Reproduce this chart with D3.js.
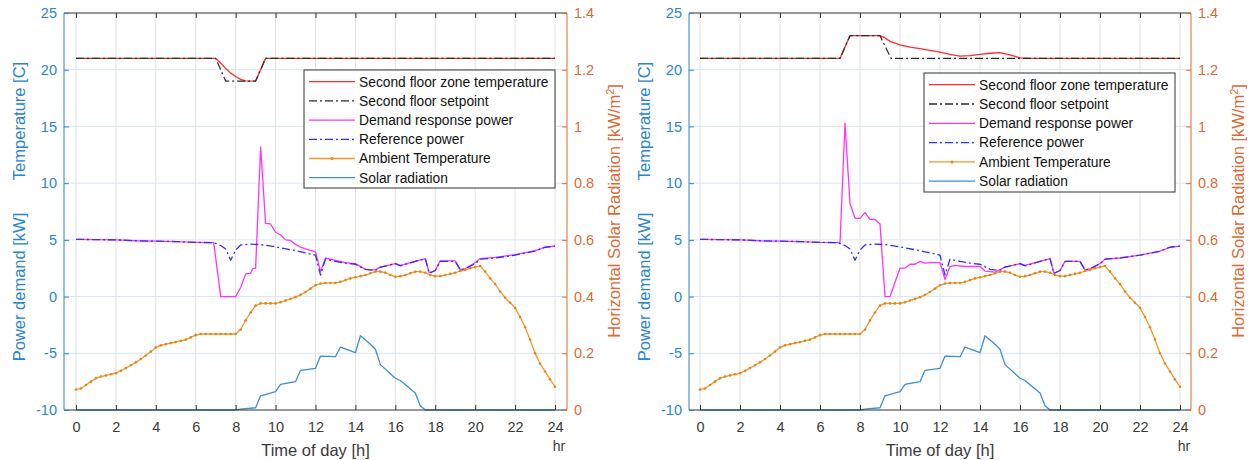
<!DOCTYPE html>
<html><head><meta charset="utf-8">
<script src="https://cdn.jsdelivr.net/npm/d3@7"></script>
<style>
body{margin:0;background:#fff}
svg{display:block}
text{font-family:"Liberation Sans",Arial,Helvetica,sans-serif}
</style>
</head><body>
<svg id="c" width="1255" height="460"></svg>
<script>
// ---------- data ----------
const xTicks = [0,2,4,6,8,10,12,14,16,18,20,22,24];
const tempTicks = [-10,-5,0,5,10,15,20,25];
const solarTicks = [0,0.2,0.4,0.6,0.8,1,1.2,1.4];
const solarTickLabels = ["0","0.2","0.4","0.6","0.8","1","1.2","1.4"];
const legendLabels = ["Second floor zone temperature","Second floor setpoint","Demand response power","Reference power","Ambient Temperature","Solar radiation"];

// ambient temperature, every 15 min (deg C)
const ambTimes = d3.range(0, 24.001, 0.25);
const ambientTemp = [
 -8.2,-8.1,-7.8,-7.5, -7.2,-7.05,-6.95,-6.85, -6.75,-6.55,-6.3,-6.05, -5.8,-5.5,-5.2,-4.85,
 -4.5,-4.3,-4.2,-4.1, -4.0,-3.9,-3.8,-3.6, -3.4,-3.3,-3.3,-3.3, -3.3,-3.3,-3.3,-3.3,
 -3.3,-2.9,-2.1,-1.4, -0.8,-0.6,-0.6,-0.6, -0.6,-0.5,-0.35,-0.2, -0.05,0.15,0.4,0.7,
 1.0,1.15,1.2,1.2, 1.2,1.3,1.45,1.6, 1.7,1.8,1.9,2.05, 2.2,2.2,2.1,1.9,
 1.75,1.8,1.9,2.05, 2.2,2.2,2.1,1.9, 1.8,1.8,1.9,2.0, 2.1,2.25,2.35,2.5,
 2.6,2.7,2.2,1.6, 1.1,0.45,-0.1,-0.55, -1.0,-1.8,-2.7,-3.8, -5.0,-5.9,-6.6,-7.3, -7.95];

// solar radiation (kW/m2)
const solarTimes = [0,8,8.25,9,9.25,10,10.25,11,11.25,12,12.25,13,13.25,14,14.25,14.75,15,15.25,16,16.25,17,17.25,17.5,24];
const solarRad   = [0,0,0.003,0.008,0.05,0.065,0.09,0.1,0.14,0.147,0.19,0.188,0.222,0.202,0.262,0.232,0.214,0.16,0.112,0.104,0.06,0.015,0,0];

// reference power (kW), same for both cases
const refTimes = [0,1,2,3,4,5,6,6.9,7.25,7.5,7.75,8,8.25,8.75,9.25,10,11,11.5,12,12.25,12.5,13,13.5,14,14.5,15,15.25,16,16.25,17,17.5,17.7,18,18.25,19,19.25,19.5,20,20.25,21,22,23,23.5,24];
const refPower = [5.05,5.02,5.0,4.92,4.88,4.85,4.78,4.75,4.5,4.2,3.2,4.1,4.55,4.62,4.58,4.38,4.05,3.85,3.65,1.9,3.3,3.1,2.95,2.85,2.4,2.3,2.6,2.9,2.7,3.1,3.35,2.05,2.3,3.1,3.1,2.35,2.45,2.9,3.3,3.4,3.65,4.0,4.35,4.45];

// demand response power (kW), case 1 (setback) and case 2 (pre-cooling/heating)
const dr1Times = [0,1,2,3,4,5,6,6.9,7.25,8,8.25,8.5,8.75,8.85,9,9.25,9.5,9.75,10,10.25,10.5,10.75,11,11.25,11.5,12,12.25,12.5,13,13.5,14,14.5,15,15.25,16,16.25,17,17.5,17.7,18,18.25,19,19.25,19.5,20,20.25,21,22,23,23.5,24];
const dr1Power = [5.05,5.02,5.0,4.92,4.88,4.85,4.78,4.75,0,0,0.8,2.0,2.05,2.45,2.5,13.2,6.45,6.4,5.65,5.45,5.0,4.95,4.6,4.35,4.2,3.95,2.2,3.4,3.2,3.0,2.9,2.4,2.35,2.6,2.9,2.75,3.1,3.35,2.1,2.3,3.15,3.15,2.4,2.45,3.0,3.35,3.45,3.7,4.05,4.35,4.45];
const dr2Times = [0,1,2,3,4,5,6,7,7.25,7.5,7.75,8,8.25,8.5,8.75,9,9.25,9.5,10,10.25,10.5,10.75,11,11.25,11.5,12,12.25,12.5,12.75,13.25,14,14.25,14.75,15.25,16,16.25,17,17.5,17.7,18,18.25,19,19.25,19.5,20,20.25,21,22,23,23.5,24];
const dr2Power = [5.05,5.02,5.0,4.92,4.88,4.85,4.78,4.75,15.3,8.2,6.9,6.9,7.4,6.8,6.8,6.4,0,0,2.5,2.5,2.85,2.85,3.1,2.95,3.0,3.0,1.5,2.65,2.75,2.65,2.65,2.25,2.15,2.6,2.9,2.75,3.1,3.35,2.05,2.3,3.1,3.1,2.35,2.45,2.9,3.3,3.4,3.65,4.0,4.35,4.45];

// zone temperature and setpoint (deg C)
const sp1Times = [0,7,7.5,9,9.5,24];
const sp1Temp  = [21,21,19,19,21,21];
const zone1Times = [0,7,7.25,7.5,7.75,8,8.25,8.5,9,9.5,24];
const zone1Temp  = [21,21,20.6,20.1,19.7,19.4,19.15,19.02,19,21,21];
const sp2Times = [0,7,7.5,9,9.55,24];
const sp2Temp  = [21,21,23,23,21,21];
const zone2Times = [0,7,7.5,9,9.25,9.5,10,10.5,11,11.5,12,12.5,13,13.5,14,14.5,15,15.5,16,16.5,24];
const zone2Temp  = [21,21,23,23,22.8,22.5,22.2,22.0,21.85,21.7,21.55,21.35,21.2,21.25,21.35,21.45,21.5,21.3,21.05,21,21];

// ---------- drawing ----------
const svg = d3.select('#c');
const C = {
  zone:'#ff2b2b', sp:'#2b2b2b', dr:'#ff33ff', ref:'#2f2fff',
  amb:'#f0982e', ambMk:'#e3861a', sol:'#3b8fd2',
  leftAx:'#2a86cc', rightAx:'#dd6a35', dark:'#333333',
  gridV:'#e2e2e2', gridH:'#d9e7f3'
};
const DASHDOT = '8,3,2,3';
const TOP = 13, BOT = 410;

function drawPanel(cfg){
  const g = svg.append('g');
  const x = d3.scaleLinear().domain(cfg.xDomain).range([cfg.left, cfg.right]);
  const yL = d3.scaleLinear().domain([-10,25]).range([BOT,TOP]);
  const yR = d3.scaleLinear().domain([0,1.4]).range([BOT,TOP]);

  // grid
  g.append('g').selectAll('line').data(xTicks).join('line')
    .attr('x1',d=>x(d)).attr('x2',d=>x(d)).attr('y1',TOP).attr('y2',BOT)
    .attr('stroke',C.gridV).attr('stroke-width',1);
  g.append('g').selectAll('line').data(tempTicks.filter(d=>d>-10&&d<25)).join('line')
    .attr('x1',cfg.left).attr('x2',cfg.right).attr('y1',d=>yL(d)).attr('y2',d=>yL(d))
    .attr('stroke',C.gridH).attr('stroke-width',1);

  const lineL = d3.line().x(d=>x(d[0])).y(d=>yL(d[1]));
  const lineR = d3.line().x(d=>x(d[0])).y(d=>yR(d[1]));
  const path = (data, gen, color, dash, w) => g.append('path').datum(data).attr('d',gen)
    .attr('fill','none').attr('stroke',color).attr('stroke-width',w||1.2)
    .attr('stroke-dasharray',dash||null).attr('stroke-linejoin','round');

  path(d3.zip(cfg.zoneT, cfg.zoneV), lineL, C.zone, null, 1.3);
  path(d3.zip(cfg.spT, cfg.spV), lineL, C.sp, DASHDOT, 1.2);
  path(d3.zip(cfg.drT, cfg.drV), lineL, C.dr, null, 1.3);
  path(d3.zip(refTimes, refPower), lineL, C.ref, DASHDOT, 1.3);
  const amb = d3.zip(ambTimes, ambientTemp);
  path(amb, lineL, C.amb, null, 1.3);
  g.append('g').selectAll('circle').data(amb).join('circle')
    .attr('cx',d=>x(d[0])).attr('cy',d=>yL(d[1])).attr('r',1.3).attr('fill',C.ambMk);
  path(d3.zip(solarTimes, solarRad), lineR, C.sol, null, 1.3);

  // axes
  const fs = '14.5px';
  const bottom = g.append('g').attr('transform',`translate(0,${BOT})`)
    .call(d3.axisBottom(x).tickValues(xTicks).tickSize(-5).tickSizeOuter(0).tickPadding(12).tickFormat(d=>String(d)));
  const top = g.append('g').attr('transform',`translate(0,${TOP})`)
    .call(d3.axisTop(x).tickValues(xTicks).tickSize(-5).tickSizeOuter(0).tickFormat(''));
  [bottom, top].forEach(a=>{
    a.select('.domain').attr('stroke',C.dark).attr('d',`M${cfg.left},0H${cfg.right}`);
    a.selectAll('.tick line').attr('stroke',C.dark);
    a.selectAll('text').attr('fill','#3a3a3a').style('font-size',fs);
  });
  const left = g.append('g').attr('transform',`translate(${cfg.left},0)`)
    .call(d3.axisLeft(yL).tickValues(tempTicks).tickSize(-5).tickSizeOuter(0).tickPadding(7).tickFormat(d=>String(d)));
  left.select('.domain').attr('stroke',C.leftAx).attr('d',`M0,${TOP}V${BOT}`);
  left.selectAll('.tick line').attr('stroke',C.leftAx);
  left.selectAll('text').attr('fill',C.leftAx).style('font-size',fs);
  const right = g.append('g').attr('transform',`translate(${cfg.right},0)`)
    .call(d3.axisRight(yR).tickValues(solarTicks).tickSize(-5).tickSizeOuter(0).tickPadding(7).tickFormat((d,i)=>solarTickLabels[i]));
  right.select('.domain').attr('stroke',C.rightAx).attr('d',`M0,${TOP}V${BOT}`);
  right.selectAll('.tick line').attr('stroke',C.rightAx);
  right.selectAll('text').attr('fill',C.rightAx).style('font-size',fs);

  // axis titles
  const lfs = '16.5px';
  g.append('text').attr('x',(cfg.left+cfg.right)/2).attr('y',456).attr('text-anchor','middle')
    .attr('fill','#3a3a3a').style('font-size',lfs).text('Time of day [h]');
  g.append('text').attr('x',x(24)+4).attr('y',451).attr('text-anchor','middle')
    .attr('fill','#3a3a3a').style('font-size','14px').text('hr');
  g.append('text').attr('transform',`translate(${cfg.left-39},121) rotate(-90)`).attr('text-anchor','middle')
    .attr('fill',C.leftAx).style('font-size',lfs).text('Temperature [C]');
  g.append('text').attr('transform',`translate(${cfg.left-39},287) rotate(-90)`).attr('text-anchor','middle')
    .attr('fill',C.leftAx).style('font-size',lfs).text('Power demand [kW]');
  const rt = g.append('text').attr('transform',`translate(${cfg.right+53},211) rotate(-90)`).attr('text-anchor','middle')
    .attr('fill',C.rightAx).style('font-size',lfs);
  rt.append('tspan').text('Horizontal Solar Radiation [kW/m');
  rt.append('tspan').attr('dy',-6).style('font-size','11px').text('2');
  rt.append('tspan').attr('dy',6).text(']');

  // legend
  const L = cfg.legend;
  const lg = g.append('g');
  lg.append('rect').attr('x',L.x).attr('y',L.y).attr('width',L.w).attr('height',L.h)
    .attr('fill','#fff').attr('stroke','#333').attr('stroke-width',1);
  const styles = [
    {c:C.zone}, {c:C.sp, d:DASHDOT}, {c:C.dr}, {c:C.ref, d:DASHDOT}, {c:C.amb, m:true}, {c:C.sol}
  ];
  const rows = lg.selectAll('g.row').data(legendLabels).join('g')
    .attr('transform',(d,i)=>`translate(${L.x},${L.y+11.7+i*L.dy})`);
  rows.append('line').attr('x1',5).attr('x2',51).attr('y1',0).attr('y2',0)
    .attr('stroke',(d,i)=>styles[i].c).attr('stroke-width',1.3)
    .attr('stroke-dasharray',(d,i)=>styles[i].d||null);
  rows.filter((d,i)=>styles[i].m).append('circle').attr('cx',28).attr('cy',0).attr('r',1.5).attr('fill',C.ambMk);
  rows.append('text').attr('x',55).attr('y',0).attr('dy','0.35em').attr('fill','#111')
    .style('font-size','13.8px').text(d=>d);
}

drawPanel({left:64, right:567, xDomain:[-0.6,24.6],
  zoneT:zone1Times, zoneV:zone1Temp, spT:sp1Times, spV:sp1Temp, drT:dr1Times, drV:dr1Power,
  legend:{x:304, y:70, w:251, h:118, dy:19.2}});
drawPanel({left:689, right:1191, xDomain:[-0.55,24.55],
  zoneT:zone2Times, zoneV:zone2Temp, spT:sp2Times, spV:sp2Temp, drT:dr2Times, drV:dr2Power,
  legend:{x:924, y:73, w:251, h:119, dy:19.3}});
</script>
</body></html>
